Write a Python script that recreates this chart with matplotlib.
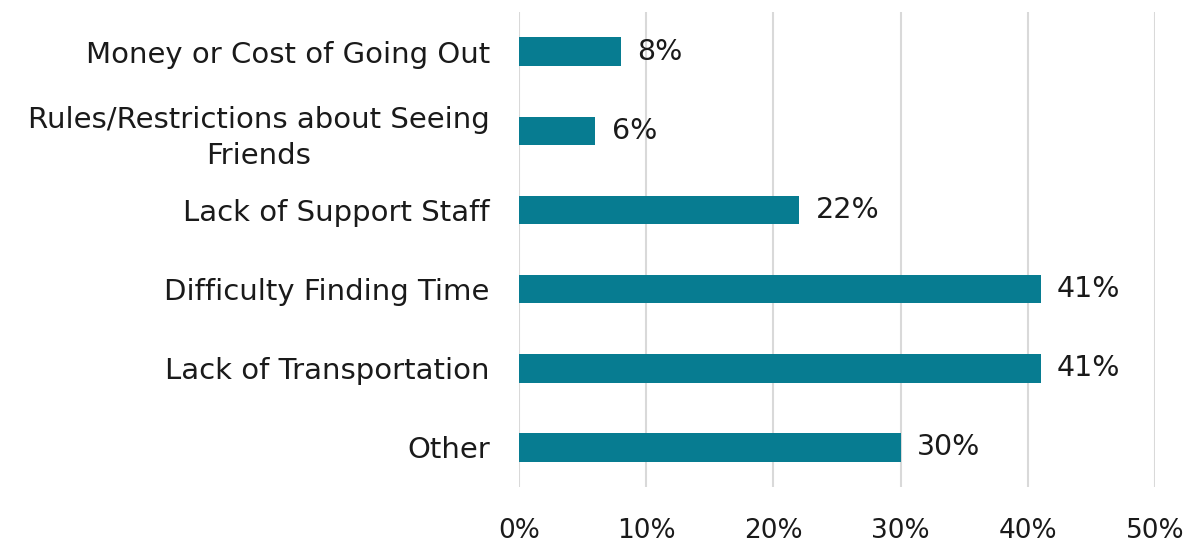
import matplotlib
matplotlib.use("Agg")
import matplotlib.pyplot as plt

categories = ["Money or Cost of Going Out",
              "Rules/Restrictions about Seeing\nFriends",
              "Lack of Support Staff",
              "Difficulty Finding Time",
              "Lack of Transportation",
              "Other"]
values = [8, 6, 22, 41, 41, 30]
xticks = [0, 10, 20, 30, 40, 50]
xticklabels = ["0%", "10%", "20%", "30%", "40%", "50%"]

plt.rcParams['font.family'] = ['DejaVu Sans']
fig = plt.figure(figsize=(11.86, 5.42), dpi=100)
ax = fig.add_axes([519/1186, 1-487/542, (1155-519)/1186, (487-12)/542])

y = list(range(len(categories)))
ax.barh(y, values, height=0.36, color="#077C91", zorder=3)
for yi, v in zip(y, values):
    ax.text(v + 1.3, yi, f"{v}%", va="center", ha="left", fontsize=20.5, color="#1a1a1a")

ax.set_xlim(0, 50)
ax.set_ylim(len(categories) - 0.5, -0.5)
ax.set_yticks(y)
ax.set_yticklabels(categories, fontsize=21, color="#1a1a1a", linespacing=1.38,
                   multialignment="center")
ax.set_xticks(xticks)
ax.set_xticklabels(xticklabels, fontsize=19, color="#1a1a1a")
ax.tick_params(axis="both", length=0)
ax.tick_params(axis="y", pad=21)
ax.tick_params(axis="x", pad=22)
for s in ax.spines.values():
    s.set_visible(False)
ax.grid(axis="x", color="#d9d9d9", linewidth=1.5, zorder=0)
ax.grid(axis="y", visible=False)

fig.savefig("out.png", dpi=100)
